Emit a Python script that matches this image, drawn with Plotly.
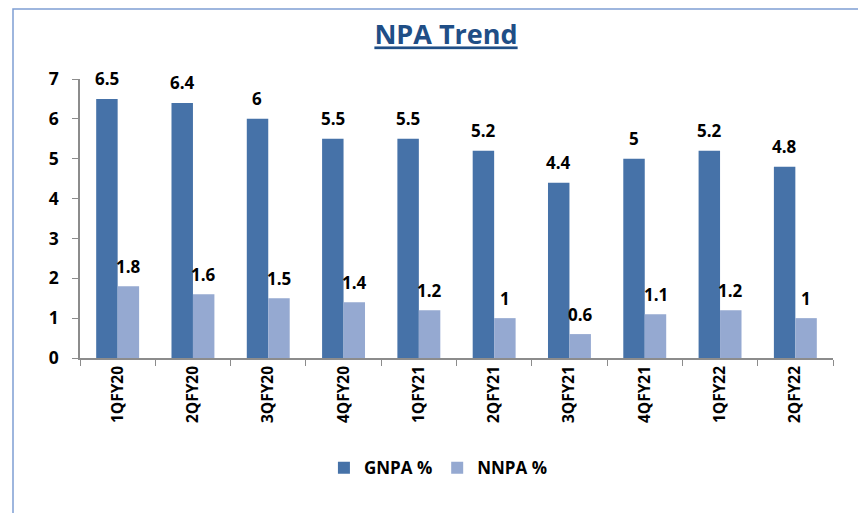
import plotly.graph_objects as go

categories = ["1QFY20", "2QFY20", "3QFY20", "4QFY20", "1QFY21", "2QFY21", "3QFY21", "4QFY21", "1QFY22", "2QFY22"]
gnpa = [6.5, 6.4, 6, 5.5, 5.5, 5.2, 4.4, 5, 5.2, 4.8]
nnpa = [1.8, 1.6, 1.5, 1.4, 1.2, 1, 0.6, 1.1, 1.2, 1]
y_ticks = [0, 1, 2, 3, 4, 5, 6, 7]

FONT = "Open Sans"
c_g = "#4672A8"
c_n = "#95A9D1"

fig = go.Figure()
fig.add_trace(go.Bar(x=categories, y=gnpa, name="<b>GNPA %</b>", marker=dict(color=c_g, line=dict(width=0))))
fig.add_trace(go.Bar(x=categories, y=nnpa, name="<b>NNPA %</b>", marker=dict(color=c_n, line=dict(width=0))))

annotations = []
for cat, g, n in zip(categories, gnpa, nnpa):
    annotations.append(dict(x=cat, y=g, xref="x", yref="y", text="<b>%g</b>" % g, showarrow=False,
                            xshift=-10.8, yshift=20, font=dict(family=FONT, size=17, color="black")))
    annotations.append(dict(x=cat, y=n, xref="x", yref="y", text="<b>%g</b>" % n, showarrow=False,
                            xshift=10.8, yshift=20, font=dict(family=FONT, size=17, color="black")))

# page has an 8px body margin, so figure is 858x505 drawn at offset (8, 8)
fig.update_layout(
    width=858, height=505,
    margin=dict(l=72, r=33, t=71, b=155),
    paper_bgcolor="white", plot_bgcolor="white",
    barmode="group", bargap=0.43, bargroupgap=0,
    title=dict(text="<b><u>NPA Trend</u></b>", x=0.5105, xanchor="center", y=0.9465, yanchor="middle",
               font=dict(family=FONT, size=27, color="#1F4E86")),
    font=dict(family=FONT, color="black"),
    xaxis=dict(showline=True, linecolor="#8C8C8C", linewidth=1.5, ticks="outside", tickson="boundaries",
               ticklen=6, tickcolor="#8C8C8C", tickangle=-90, automargin=False,
               tickfont=dict(family=FONT, size=15.5, color="black", weight="bold"), showgrid=False),
    yaxis=dict(range=[0, 7], tickvals=y_ticks, showline=True, linecolor="#8C8C8C", linewidth=1.5,
               ticks="outside", ticklen=6, tickcolor="#8C8C8C", showgrid=False, zeroline=False,
               automargin=False,
               tickfont=dict(family=FONT, size=17.5, color="black", weight="bold"), ticklabelstandoff=10),
    legend=dict(orientation="h", x=0.476, xanchor="center", y=-0.395, yanchor="middle",
                font=dict(family=FONT, size=17, color="black"), traceorder="normal",
                itemwidth=30),
    annotations=annotations,
    showlegend=True,
)
fig.add_shape(type="rect", xref="paper", yref="paper", x0=(13 - 80) / 753, x1=(870 - 80) / 753,
              y0=(358 - 520) / 279, y1=349 / 279, line=dict(color="#7F9FD3", width=1.5),
              fillcolor="rgba(0,0,0,0)", layer="below")

fig.write_html("out.html")
